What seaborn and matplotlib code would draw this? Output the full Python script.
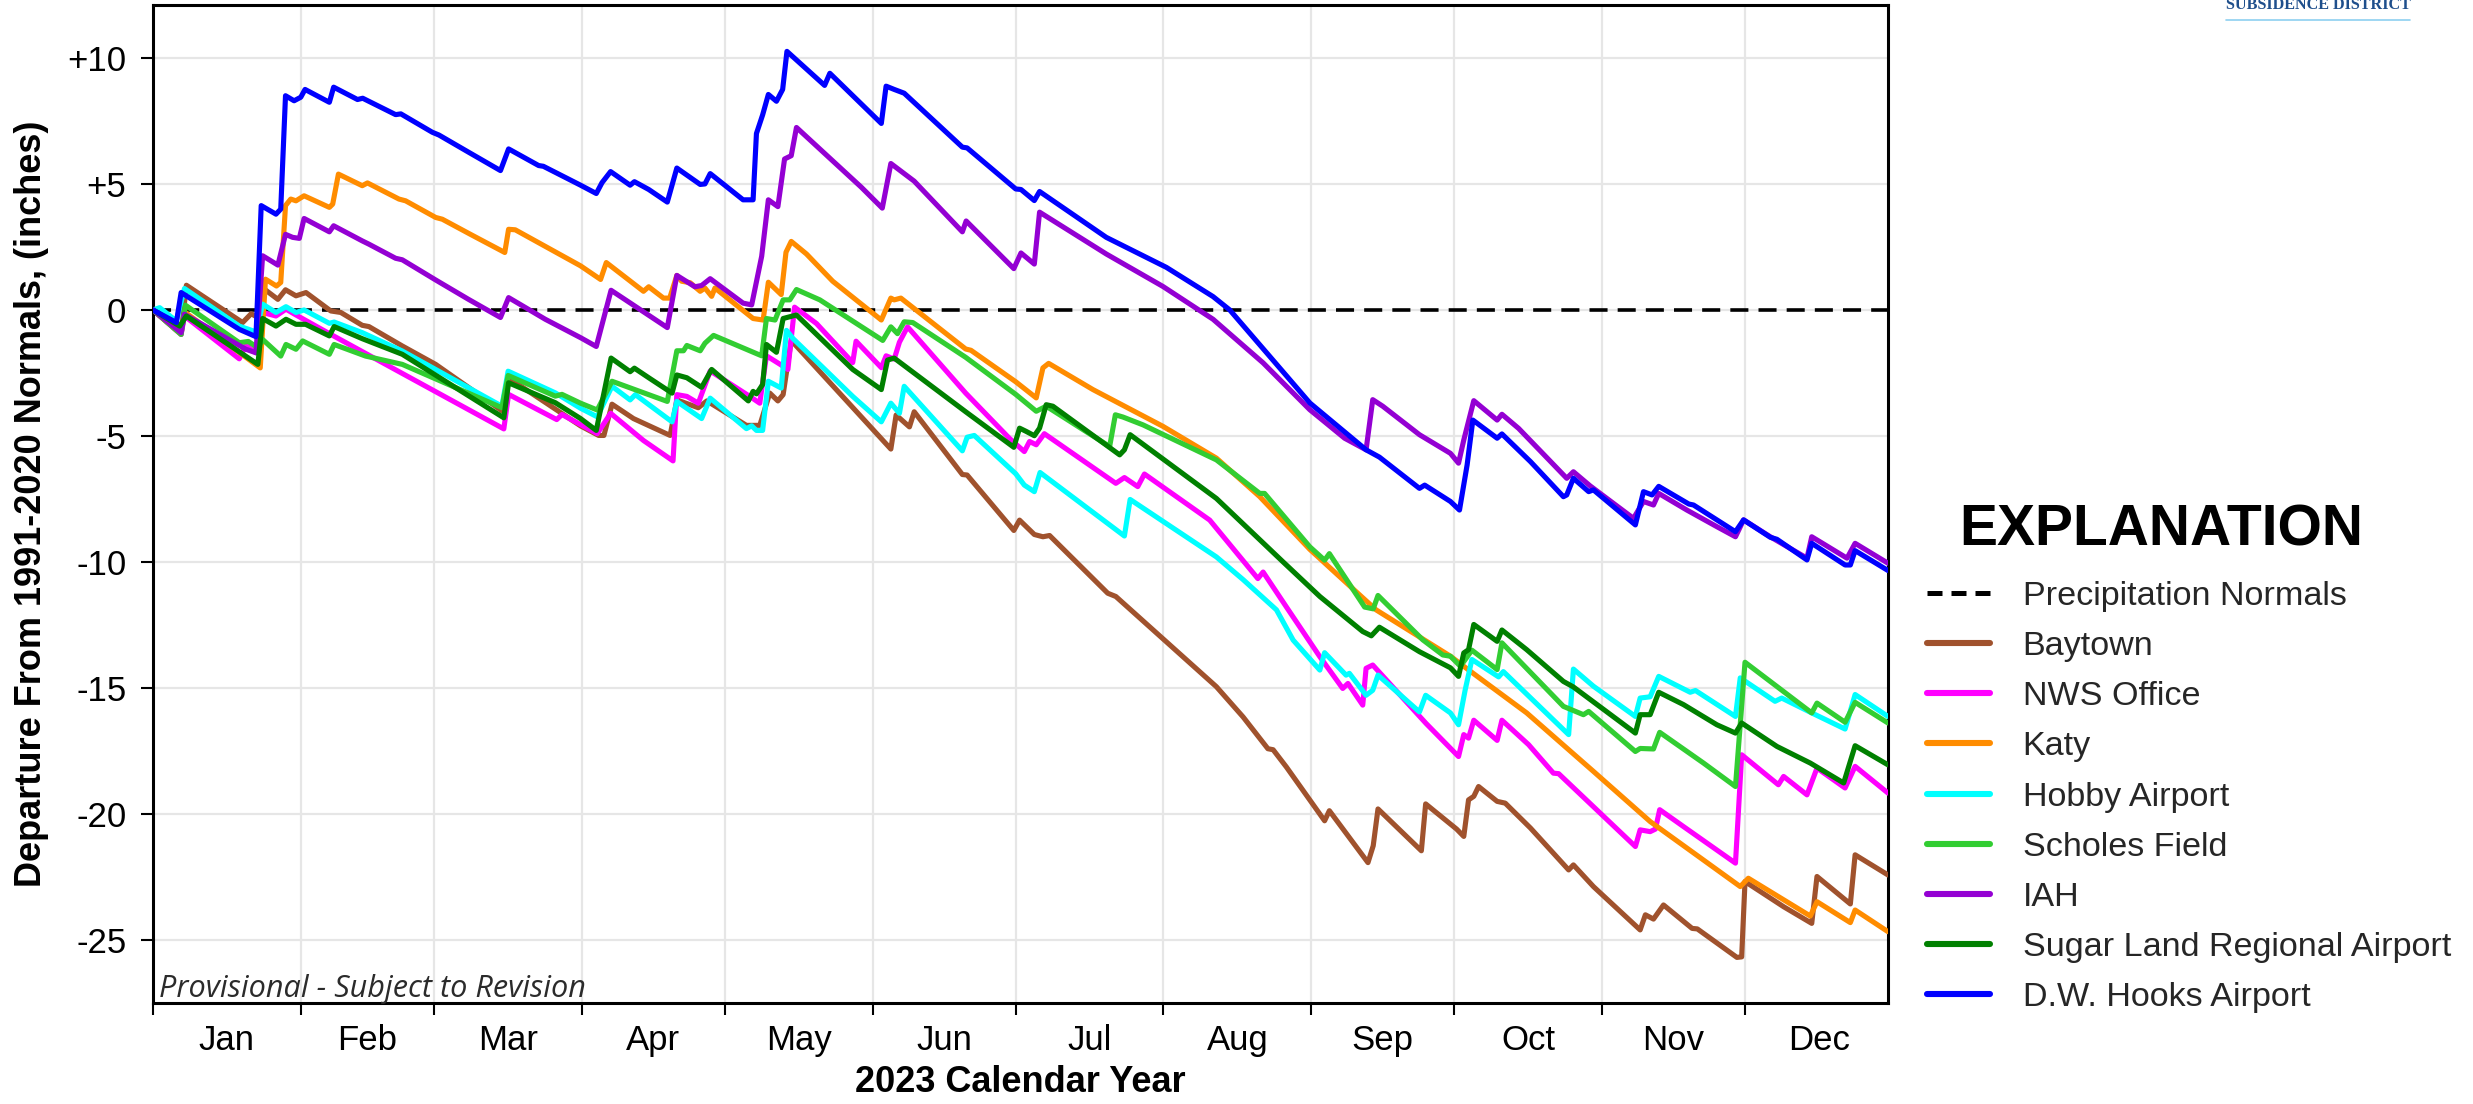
import matplotlib
matplotlib.use("Agg")
import matplotlib.pyplot as plt
import seaborn as sns
import pandas as pd
from matplotlib.lines import Line2D
from matplotlib.ticker import FixedLocator, FixedFormatter, NullFormatter

# ---------------- data (day of year 0 = Jan 1, 2023; departure in inches) ----------------
stations = ["Baytown", "NWS Office", "Katy", "Hobby Airport", "Scholes Field",
            "IAH", "Sugar Land Regional Airport", "D.W. Hooks Airport"]
colors = ["#A0522D", "#FF00FF", "#FF8C00", "#00FFFF", "#32CD32",
          "#9400D3", "#008000", "#0000FF"]

baytown_day = [0, 5.9, 7, 18.8, 20.6, 22, 23.4, 26.2, 27.8, 30, 32.1, 37.3, 39.4, 43.9, 45.3, 52.3,
               59.3, 73.2, 74.6, 89.7, 93.5, 94.6, 96.3, 100.8, 108.5, 109.9, 114.4, 116.2, 124.5,
               127.3, 129.4, 131.1, 132.2, 133.9, 154.8, 155.9, 158.7, 159.7, 169.8, 170.8, 180.6,
               181.8, 184.9, 186.7, 188.1, 200.3, 202, 223.1, 228.7, 233.9, 235, 237.8, 245.8, 246.8,
               254.9, 256, 257, 266.1, 267, 273.5, 275, 276, 277.1, 278.1, 282, 283.7, 289, 297, 298,
               302.2, 312, 313.1, 314.8, 316.9, 322.9, 324, 332.3, 333.3, 334, 342.1, 348, 349.1,
               356.1, 357.1, 364]
baytown_val = [0, -0.97, 0.98, -0.5, -0.15, -0.3, 0.82, 0.42, 0.8, 0.56, 0.69, -0.04, -0.1, -0.61,
               -0.66, -1.43, -2.16, -4.0, -2.7, -4.6, -4.98, -4.98, -3.74, -4.31, -4.98, -3.57, -3.88,
               -3.61, -4.58, -4.58, -3.3, -3.61, -3.36, -1.21, -5.52, -4.17, -4.64, -4.04, -6.53,
               -6.55, -8.75, -8.34, -8.91, -9.0, -8.95, -11.24, -11.37, -14.95, -16.15, -17.41,
               -17.45, -18.14, -20.27, -19.87, -21.93, -21.26, -19.8, -21.46, -19.6, -20.6, -20.89,
               -19.44, -19.3, -18.91, -19.5, -19.57, -20.56, -22.22, -22.02, -22.88, -24.6, -24.0,
               -24.17, -23.61, -24.54, -24.56, -25.69, -25.67, -22.68, -23.68, -24.34, -22.48,
               -23.57, -21.62, -22.42]

nws_day = [0, 5.9, 6.6, 18.1, 19.5, 21.6, 23, 25.8, 27.9, 30, 37.3, 73.6, 74.6, 84.7, 85.8, 89.7,
           93.2, 96, 102.9, 109.1, 109.9, 112, 114.4, 116.9, 125.2, 127.3, 128.7, 131.5, 133.2,
           134.6, 139.2, 146.8, 147.5, 152.8, 153.8, 155.5, 156.6, 158.3, 170.5, 179.7, 182.8,
           183.9, 185.3, 187, 202, 203.8, 206.6, 208, 221.7, 231.8, 232.9, 237.8, 244.8, 249.6,
           250.7, 253.8, 254.5, 255.9, 267.1, 273.9, 275, 276, 277.1, 282, 283, 288.6, 293.8,
           294.9, 311, 312, 314.1, 315.2, 316.1, 321.1, 332, 333.3, 341, 342.1, 347, 349.1, 355,
           357.1, 364]
nws_val = [0, -0.97, -0.24, -1.94, -1.4, -1.7, -0.1, -0.24, 0.03, -0.2, -0.97, -4.72, -3.35, -4.35,
           -4.15, -4.55, -4.91, -4.1, -5.18, -5.99, -3.36, -3.43, -3.7, -2.42, -3.43, -3.7, -1.82,
           -2.15, -2.36, 0.11, -0.54, -2.09, -1.24, -2.29, -1.82, -1.95, -1.28, -0.67, -3.3, -5.1,
           -5.62, -5.22, -5.35, -4.91, -6.88, -6.65, -7.01, -6.51, -8.34, -10.66, -10.4, -11.79,
           -13.76, -15.02, -14.82, -15.68, -14.22, -14.09, -16.41, -17.72, -16.85, -16.99, -16.28,
           -17.08, -16.28, -17.25, -18.38, -18.4, -21.29, -20.63, -20.7, -20.6, -19.83, -20.5,
           -21.95, -17.65, -18.84, -18.51, -19.24, -18.18, -18.97, -18.11, -19.17]

katy_day = [0, 5.6, 6.8, 22.5, 23.6, 25.9, 26.8, 27.8, 28.9, 30, 31.7, 37, 37.7, 38.9, 43.9, 45,
            51.6, 53, 59.3, 60.7, 66.6, 73.8, 74.6, 76, 89.7, 93.9, 95.1, 102.9, 104, 107.1, 108.4,
            109.9, 110.9, 112.7, 114.8, 115.8, 117.2, 117.9, 125.9, 128, 129.1, 131.8, 132.8,
            133.9, 137.1, 142.6, 152.8, 154.8, 155.5, 156.9, 170.5, 171.6, 181, 185.3, 186.7,
            187.9, 197.2, 211.9, 223.1, 232.2, 242.7, 253.1, 256.6, 272.2, 276.4, 288.2, 302.2,
            314.1, 333, 334.7, 347.7, 349.1, 356.1, 357.1, 364]
katy_val = [0, -0.9, -0.1, -2.3, 1.22, 0.95, 1.09, 4.14, 4.4, 4.33, 4.53, 4.07, 4.2, 5.39, 4.93,
            5.04, 4.4, 4.33, 3.67, 3.6, 3.0, 2.28, 3.2, 3.18, 1.75, 1.21, 1.88, 0.74, 0.92, 0.47,
            0.47, 1.37, 1.14, 1.08, 0.74, 0.87, 0.54, 0.87, -0.34, -0.4, 1.1, 0.61, 2.29, 2.72,
            2.22, 1.14, -0.4, 0.47, 0.4, 0.47, -1.55, -1.6, -2.85, -3.49, -2.3, -2.12, -3.16,
            -4.62, -5.88, -7.41, -9.5, -11.3, -11.9, -13.74, -14.34, -15.99, -18.31, -20.3,
            -22.88, -22.55, -24.05, -23.48, -24.31, -23.81, -24.67]

hobby_day = [0, 1.4, 4.9, 6.6, 18.1, 21.6, 23, 25.8, 27.9, 30, 31.7, 37, 38, 43.9, 52.3, 73.2,
             74.5, 84.4, 89.7, 93.2, 96.3, 100.1, 101.2, 108.9, 109.9, 115.1, 116.9, 124.5, 125.6,
             126.6, 127.9, 129.1, 131.8, 132.9, 134.3, 146.8, 152.8, 154.8, 156.6, 157.6, 169.8,
             170.8, 172.3, 181, 182.8, 184.9, 186.1, 203.8, 205, 223.1, 228.7, 235.7, 239.2,
             244.8, 245.8, 250.3, 251, 254.5, 255.9, 257, 265.7, 267, 272.2, 273.9, 275.3, 276.7,
             282.3, 283.3, 297, 298, 302.2, 311, 312, 314.1, 315.9, 322.5, 323.6, 332, 333, 340.3,
             341.7, 348, 355, 357.1, 364]
hobby_val = [0, 0.09, -0.44, 0.85, -0.64, -0.87, 0.23, -0.1, 0.13, -0.1, 0, -0.53, -0.48, -0.9,
             -1.63, -3.82, -2.43, -3.29, -3.9, -4.24, -3.03, -3.57, -3.36, -4.44, -3.63, -4.31,
             -3.5, -4.71, -4.6, -4.78, -4.78, -2.83, -3.1, -0.81, -1.14, -3.43, -4.44, -3.7, -4.1,
             -3.03, -5.59, -5.05, -4.98, -6.5, -6.95, -7.21, -6.45, -8.97, -7.52, -9.8, -10.7,
             -11.9, -13.1, -14.29, -13.6, -14.49, -14.42, -15.29, -15.09, -14.49, -15.95, -15.29,
             -15.99, -16.46, -15.07, -13.87, -14.56, -14.35, -16.85, -14.25, -14.93, -16.13, -15.4,
             -15.35, -14.54, -15.17, -15.1, -16.13, -14.6, -15.53, -15.4, -15.99, -16.63, -15.26,
             -16.13]

scholes_day = [0, 5.9, 6.8, 18.1, 20, 22, 23, 26.8, 27.9, 30, 31.4, 37, 38, 44.6, 52.3, 73.2,
               74.5, 84.4, 85.8, 89.7, 93.2, 96.3, 107.9, 109.9, 111.3, 112, 114.8, 115.8, 117.6,
               127.7, 128.7, 130.5, 132.2, 133.6, 135, 139.9, 153.1, 154.8, 156.2, 157.6, 159.4,
               170.5, 181, 185.3, 187.4, 200.7, 201.9, 203.5, 207.7, 223.1, 232.2, 233.2, 242.7,
               245.8, 246.8, 254.2, 256, 257, 266.4, 270.6, 272.2, 274.3, 276.7, 282, 283, 295.9,
               300.1, 301.2, 311, 312, 314.8, 316.1, 325.3, 332, 334, 348, 349.1, 355, 357.1, 364]
scholes_val = [0, -0.97, 0.19, -1.3, -1.25, -1.5, -1.17, -1.83, -1.37, -1.56, -1.23, -1.76, -1.37,
               -1.83, -2.16, -3.88, -2.6, -3.42, -3.35, -3.7, -3.97, -2.83, -3.63, -1.62, -1.62,
               -1.41, -1.62, -1.32, -1.01, -1.82, -0.34, -0.4, 0.4, 0.4, 0.81, 0.4, -1.21, -0.67,
               -0.94, -0.47, -0.5, -1.88, -3.35, -4.02, -3.82, -5.42, -4.16, -4.25, -4.56, -5.95,
               -7.28, -7.28, -9.4, -9.93, -9.67, -11.79, -11.86, -11.33, -13.09, -13.69, -13.74,
               -14.14, -13.5, -14.27, -13.21, -15.73, -16.06, -15.93, -17.52, -17.4, -17.42, -16.76,
               -17.98, -18.91, -13.98, -15.99, -15.6, -16.36, -15.57, -16.39]

iah_day = [0, 5.9, 6.6, 19.5, 21.6, 23, 26.2, 27.8, 29.3, 30.7, 31.7, 37, 37.9, 43.9, 45.3, 50.9,
           52.3, 59.3, 66.2, 72.9, 74.6, 82.3, 89.7, 93, 96.1, 107.9, 109.9, 113.7, 115.1, 116.9,
           123.8, 125.6, 127.7, 129.1, 131.1, 132.5, 133.9, 135, 148.6, 153, 154.8, 157.6, 159.7,
           169.8, 170.6, 180.6, 182.1, 184.9, 186, 200, 211.9, 222.4, 232.9, 242.7, 245.1, 250,
           254.5, 255.9, 258, 265.7, 272.2, 273.9, 275, 277.1, 282, 283, 286.5, 296.6, 298, 301.5,
           310.6, 312.7, 314.8, 315.9, 321.8, 328.1, 332, 333.7, 339.3, 347, 348, 355.4, 357.1, 364]
iah_val = [0, -0.9, -0.17, -1.56, -1.7, 2.15, 1.78, 3.0, 2.88, 2.84, 3.63, 3.1, 3.34, 2.74, 2.61,
           2.05, 1.99, 1.19, 0.42, -0.3, 0.49, -0.37, -1.1, -1.45, 0.78, -0.7, 1.37, 0.92, 0.97,
           1.24, 0.27, 0.2, 2.13, 4.37, 4.1, 5.99, 6.12, 7.24, 4.87, 4.04, 5.81, 5.41, 5.11, 3.1,
           3.53, 1.64, 2.26, 1.82, 3.88, 2.22, 0.93, -0.37, -2.1, -3.96, -4.33, -5.09, -5.55,
           -3.56, -3.82, -4.95, -5.69, -6.08, -5.16, -3.6, -4.37, -4.14, -4.7, -6.68, -6.42, -6.98,
           -8.27, -7.6, -7.74, -7.28, -7.94, -8.6, -9.0, -8.33, -9.0, -9.85, -9.0, -9.85, -9.26,
           -10.05]

sugarland_day = [0, 5.6, 7, 22, 23, 25.8, 27.9, 30, 32, 37, 38, 43.9, 52.3, 73.6, 74.6, 84.4, 89.7,
                 93, 96.1, 100.1, 101, 104, 108.9, 109.9, 112, 115.1, 117.2, 124.9, 125.9, 126.6,
                 127.9, 128.7, 130.8, 132.2, 135, 146.8, 152.8, 154.1, 155.5, 170.5, 180.6, 181.8,
                 183.2, 184.9, 186, 187.4, 188.8, 202.8, 203.8, 205, 223.1, 237.1, 244.8, 253.8,
                 255.6, 257.3, 265.7, 272.2, 273.9, 275, 276, 277.1, 282, 283, 288.2, 295.9, 298,
                 311, 312, 314.1, 315.9, 321.1, 328.1, 332, 333.3, 340.7, 347.7, 354.7, 357.1, 364]
sugarland_val = [0, -0.64, -0.24, -2.16, -0.34, -0.64, -0.37, -0.57, -0.57, -1.03, -0.66, -1.14,
                 -1.76, -4.28, -2.89, -3.68, -4.31, -4.78, -1.91, -2.45, -2.31, -2.69, -3.3, -2.58,
                 -2.69, -3.07, -2.36, -3.61, -3.23, -3.33, -2.96, -1.37, -1.68, -0.34, -0.2, -2.36,
                 -3.16, -1.99, -1.91, -4.04, -5.45, -4.69, -4.82, -4.99, -4.69, -3.76, -3.82, -5.75,
                 -5.55, -4.95, -7.48, -10.0, -11.37, -12.76, -12.93, -12.59, -13.56, -14.2, -14.54,
                 -13.61, -13.48, -12.48, -13.15, -12.7, -13.48, -14.74, -14.96, -16.79, -16.06,
                 -16.06, -15.17, -15.66, -16.46, -16.79, -16.39, -17.32, -17.98, -18.77, -17.29,
                 -18.05]

hooks_day = [0, 4.9, 5.9, 18.1, 21.6, 22.7, 25.8, 26.8, 27.8, 29.6, 31, 31.9, 37, 37.9, 42.9, 44,
             50.9, 52, 58.6, 60, 66.2, 72.9, 74.6, 80.9, 81.9, 89.7, 93, 94.2, 96, 100.1, 101, 104,
             107.9, 109.9, 114.8, 115.8, 116.9, 123.8, 125.9, 126.6, 127.9, 129.1, 130.8, 132.1,
             133, 140.9, 142, 152.8, 153.8, 155.5, 157.6, 169.8, 170.8, 181, 182.1, 184.9, 186,
             200, 212.6, 222.4, 225.9, 242.7, 254.5, 257.3, 265.7, 266.8, 272.2, 274.1, 275.7,
             276.9, 282, 283, 289, 295.9, 296.6, 298, 301.2, 302.2, 311, 312.7, 314.5, 315.9,
             322.2, 323.2, 332, 333.7, 339.3, 340.7, 347, 348, 355, 356.1, 357.1, 364]
hooks_val = [0, -0.5, 0.69, -0.77, -1.06, 4.14, 3.8, 4.0, 8.5, 8.3, 8.44, 8.75, 8.24, 8.84, 8.35,
             8.4, 7.75, 7.78, 7.05, 6.94, 6.26, 5.53, 6.39, 5.73, 5.7, 4.95, 4.62, 5.05, 5.49, 4.95,
             5.09, 4.78, 4.28, 5.63, 4.98, 5.0, 5.41, 4.37, 4.37, 7.0, 7.74, 8.55, 8.28, 8.75,
             10.26, 8.91, 9.39, 7.4, 8.88, 8.75, 8.6, 6.46, 6.43, 4.8, 4.78, 4.34, 4.7, 2.88, 1.69,
             0.53, 0.0, -3.69, -5.55, -5.84, -7.08, -6.95, -7.6, -7.94, -6.15, -4.37, -5.09, -4.92,
             -6.02, -7.41, -7.34, -6.68, -7.21, -7.14, -8.53, -7.21, -7.34, -7.0, -7.7, -7.74, -8.8,
             -8.33, -9.02, -9.1, -9.92, -9.26, -10.12, -10.12, -9.55, -10.34]

normal_value = 0.0

month_starts = [0, 31, 59, 90, 120, 151, 181, 212, 243, 273, 304, 334]
month_mids = [15.5, 45, 74.5, 105, 135.5, 166, 196.5, 227.5, 258, 288.5, 319, 349.5]
month_labels = ["Jan", "Feb", "Mar", "Apr", "May", "Jun", "Jul", "Aug", "Sep", "Oct", "Nov", "Dec"]
y_ticks = [10, 5, 0, -5, -10, -15, -20, -25]
y_tick_labels = ["+10", "+5", "0", "-5", "-10", "-15", "-20", "-25"]

series_days = [baytown_day, nws_day, katy_day, hobby_day, scholes_day, iah_day, sugarland_day, hooks_day]
series_vals = [baytown_val, nws_val, katy_val, hobby_val, scholes_val, iah_val, sugarland_val, hooks_val]

frames = []
for name, d, v in zip(stations, series_days, series_vals):
    frames.append(pd.DataFrame({"station": name, "day": d, "value": v}))
df = pd.concat(frames, ignore_index=True)

# ---------------- figure ----------------
sns.set_theme(style="white")
plt.rcParams["font.family"] = ["Liberation Sans", "DejaVu Sans"]

W, H = 2473, 1104
fig = plt.figure(figsize=(W / 100, H / 100), dpi=100)
ax = fig.add_axes([153 / W, 1 - 1003 / H, (1888 - 153) / W, (1003 - 5) / H])

ax.grid(True, color="#e6e6e6", linewidth=1.6, zorder=0)
ax.set_axisbelow(True)

ax.axhline(normal_value, color="black", linewidth=2.6, dashes=(5.0, 2.8), zorder=2)

sns.lineplot(data=df, x="day", y="value", hue="station", hue_order=stations,
             palette=dict(zip(stations, colors)), estimator=None, sort=False,
             linewidth=3.7, legend=False, ax=ax, zorder=3)

ax.set_xlim(0, 364)
ax.set_ylim(-27.5, 12.1)

ax.xaxis.set_major_locator(FixedLocator(month_starts))
ax.xaxis.set_major_formatter(NullFormatter())
ax.xaxis.set_minor_locator(FixedLocator(month_mids))
ax.xaxis.set_minor_formatter(FixedFormatter(month_labels))
ax.yaxis.set_major_locator(FixedLocator(y_ticks))
ax.yaxis.set_major_formatter(FixedFormatter(y_tick_labels))

ax.tick_params(axis="x", which="major", direction="out", length=8.6, width=1.5,
               color="black", bottom=True)
ax.tick_params(axis="x", which="minor", length=0, pad=15, labelsize=25, labelcolor="black")
ax.tick_params(axis="y", which="major", direction="out", length=8.6, width=1.5,
               color="black", left=True, pad=10.5, labelsize=25, labelcolor="black")

for sp in ax.spines.values():
    sp.set_visible(True)
    sp.set_color("black")
    sp.set_linewidth(2.2)

ax.set_xlabel("2023 Calendar Year", fontsize=26, fontweight="bold", color="black")
ax.xaxis.label.set_va("center")
ax.xaxis.set_label_coords(0.5, (1003 - 1083) / 998)
ax.set_ylabel("Departure From 1991-2020 Normals, (inches)", fontsize=26,
              fontweight="bold", color="black")
ax.yaxis.label.set_va("center")
ax.yaxis.set_label_coords((32 - 153) / 1735, 0.5)

prov = ax.text(0.0035, 0.006, "Provisional - Subject to Revision", transform=ax.transAxes,
               fontsize=15, style="italic", color="#2b2b2b", ha="left", va="baseline",
               family=["Open Sans", "DejaVu Sans"])
fig.canvas.draw()
r = fig.canvas.get_renderer()
wpx = prov.get_window_extent(r).width
prov.set_fontsize(15 * 426 / wpx)

# legend
handles = [Line2D([0], [0], color="black", lw=3.6, dashes=(3.0, 1.8))]
for c in colors:
    handles.append(Line2D([0], [0], color=c, lw=4.4))
labels = ["Precipitation Normals"] + stations
fig.text(1959 / W, 1 - 545 / H, "EXPLANATION", fontsize=41, fontweight="bold",
         ha="left", va="baseline", color="black")
leg = fig.legend(handles, labels, loc="upper left",
                 bbox_to_anchor=(1927 / W, 1 - 581 / H), frameon=False,
                 fontsize=24.6, handlelength=1.84, handletextpad=0.96,
                 labelspacing=0.56, borderpad=0, borderaxespad=0)

# logo fragment at top right
fig.text(2226 / W, 1 - 9 / H, "SUBSIDENCE DISTRICT", fontsize=11.6, fontweight="bold",
         family=["Liberation Serif", "DejaVu Serif"], color="#1f4f8c",
         ha="left", va="baseline")
fig.add_artist(Line2D([2226 / W, 2410 / W], [1 - 20 / H, 1 - 20 / H],
                      transform=fig.transFigure, color="#8ecff0", lw=1.2))

fig.savefig("out.png", dpi=100)
